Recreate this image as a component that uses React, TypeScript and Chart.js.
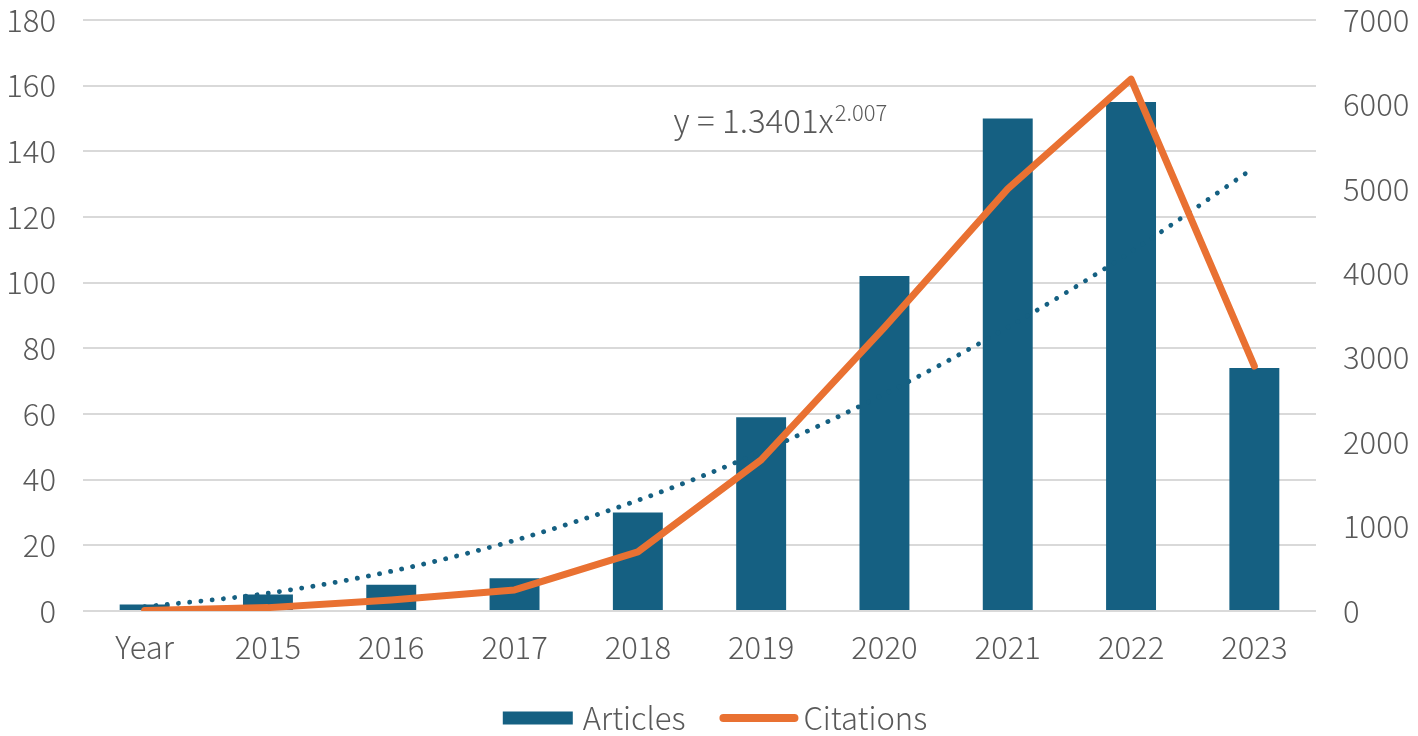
import React, { useEffect, useRef } from "react";
import { Chart, registerables } from "chart.js";

Chart.register(...registerables);

const categories = ["Year", "2015", "2016", "2017", "2018", "2019", "2020", "2021", "2022", "2023"];
const articles = [2, 5, 8, 10, 30, 59, 102, 150, 155, 74];
const citations = [5, 40, 130, 250, 700, 1790, 3360, 5000, 6300, 2900];
const trend = [1.3, 5.4, 12.1, 21.5, 33.7, 48.5, 66.1, 86.4, 109.4, 135.1];
const leftTicks = [0, 20, 40, 60, 80, 100, 120, 140, 160, 180];
const rightTicks = [0, 1000, 2000, 3000, 4000, 5000, 6000, 7000];
const equationMain = "y = 1.3401x";
const equationExp = "2.007";

const BLUE = "#156082";
const ORANGE = "#E97132";
const TEXT = "#595959";
const GRID = "#D9D9D9";
const FONT = "'Noto Sans CJK SC', 'Noto Sans', sans-serif";

const overlayPlugin = {
  id: "overlay",
  afterDraw(chart: any) {
    const ctx = chart.ctx;
    const x = chart.scales.x;
    const y = chart.scales.y;
    ctx.save();
    // equation label anchored to the scales
    const ex = x.getPixelForValue(4.29);
    const ey = y.getPixelForValue(145.5);
    ctx.fillStyle = TEXT;
    ctx.textBaseline = "alphabetic";
    ctx.textAlign = "left";
    ctx.font = `300 33px ${FONT}`;
    ctx.fillText(equationMain, ex, ey);
    const w = ctx.measureText(equationMain).width;
    ctx.font = `300 22px ${FONT}`;
    ctx.fillText(equationExp, ex + w + 1, ey - 12);

    // legend
    const ly = 718;
    ctx.font = `300 31px ${FONT}`;
    ctx.textBaseline = "middle";
    const a1 = "Articles";
    const a2 = "Citations";
    const boxW = 70;
    const lineW = 79;
    const gap = 10;
    const between = 34;
    const total = boxW + gap + ctx.measureText(a1).width + between + lineW + gap - 5 + ctx.measureText(a2).width;
    let cx = (chart.width - total) / 2 + 6;
    ctx.fillStyle = BLUE;
    ctx.fillRect(cx, ly - 6.5, boxW, 13);
    cx += boxW + gap;
    ctx.fillStyle = TEXT;
    ctx.fillText(a1, cx, ly);
    cx += ctx.measureText(a1).width + between;
    ctx.strokeStyle = ORANGE;
    ctx.lineWidth = 8;
    ctx.lineCap = "round";
    ctx.beginPath();
    ctx.moveTo(cx + 4, ly);
    ctx.lineTo(cx + lineW - 4, ly);
    ctx.stroke();
    cx += lineW + gap - 5;
    ctx.fillText(a2, cx, ly);
    ctx.restore();
  },
};

export default function App() {
  const ref = useRef<HTMLCanvasElement | null>(null);
  useEffect(() => {
    if (!ref.current) return;
    const chart = new Chart(ref.current, {
      type: "bar",
      data: {
        labels: categories,
        datasets: [
          {
            type: "line",
            label: "Citations",
            data: citations,
            yAxisID: "y1",
            borderColor: ORANGE,
            borderWidth: 7,
            pointRadius: 0,
            borderCapStyle: "round",
            borderJoinStyle: "round",
            tension: 0,
            order: 1,
          } as any,
          {
            type: "line",
            label: "Trend",
            data: trend,
            yAxisID: "y",
            borderColor: BLUE,
            borderWidth: 4.8,
            borderDash: [0.1, 11.2],
            borderCapStyle: "round",
            pointRadius: 0,
            cubicInterpolationMode: "monotone",
            order: 2,
          } as any,
          {
            type: "bar",
            label: "Articles",
            data: articles,
            yAxisID: "y",
            backgroundColor: BLUE,
            barPercentage: 0.405,
            categoryPercentage: 1,
            order: 3,
          },
        ],
      },
      options: {
        responsive: false,
        animation: false,
        devicePixelRatio: 1,
        layout: { padding: { top: 0, bottom: 0, left: 0, right: 0 } },
        plugins: { legend: { display: false }, tooltip: { enabled: false } },
        scales: {
          x: {
            grid: { display: false, drawTicks: false },
            border: { display: false },
            ticks: { color: TEXT, font: { family: FONT, size: 31, weight: 300 }, padding: 18 },
            afterFit(s: any) { s.height = 125; },
          },
          y: {
            position: "left",
            min: 0,
            max: 180,
            afterBuildTicks(s: any) { s.ticks = leftTicks.map((v) => ({ value: v })); },
            grid: { color: GRID, lineWidth: 2, drawTicks: false },
            border: { display: false },
            ticks: { color: TEXT, font: { family: FONT, size: 31, weight: 300 }, padding: 27, callback: (v: any) => String(v) },
            afterFit(s: any) { s.width = 83; s.paddingTop = 20; s.paddingBottom = 0; },
          },
          y1: {
            position: "right",
            min: 0,
            max: 7000,
            afterBuildTicks(s: any) { s.ticks = rightTicks.map((v) => ({ value: v })); },
            grid: { display: false, drawTicks: false },
            border: { display: false },
            ticks: { color: TEXT, font: { family: FONT, size: 31, weight: 300 }, padding: 27, callback: (v: any) => String(v) },
            afterFit(s: any) { s.width = 102; s.paddingTop = 20; s.paddingBottom = 0; },
          },
        },
      },
      plugins: [overlayPlugin],
    });
    return () => chart.destroy();
  }, []);
  return (
    <div style={{ position: "absolute", left: 0, top: 0, width: 1418, height: 736, background: "#fff" }}>
      <canvas ref={ref} width={1418} height={736} />
    </div>
  );
}
